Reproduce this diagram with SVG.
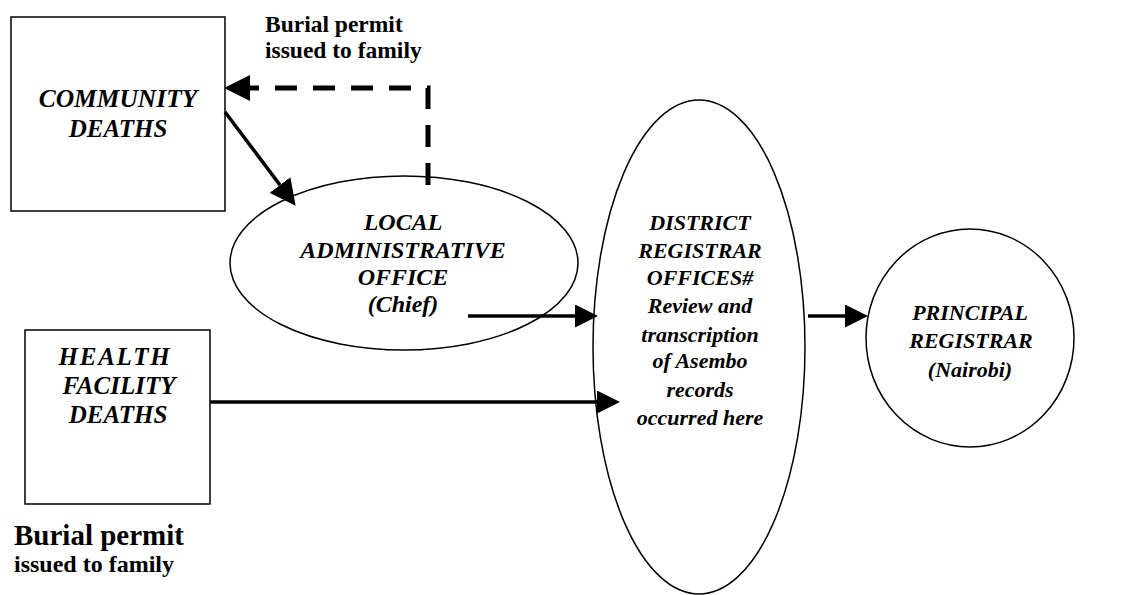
<svg xmlns="http://www.w3.org/2000/svg" width="1133" height="595" viewBox="0 0 1133 595">
<style>
.box{fill:#fff;stroke:#000;stroke-width:1.5}
.node{font-family:"Liberation Serif","Times New Roman",serif;font-weight:bold;font-style:italic;text-anchor:middle;fill:#000}
.lbl{font-family:"Liberation Serif","Times New Roman",serif;font-weight:bold;fill:#000}
.conn{fill:none;stroke:#000;stroke-width:3.5}
.dash{fill:none;stroke:#000;stroke-width:5;stroke-dasharray:22 16}
</style>
<defs>
<marker id="ah" viewBox="0 0 24 24" refX="0" refY="12" markerWidth="23" markerHeight="23" markerUnits="userSpaceOnUse" orient="auto">
<path d="M0,0 L24,12 L0,24 z" fill="#000"/>
</marker>
<marker id="ahb" viewBox="0 0 24 24" refX="0" refY="12" markerWidth="26" markerHeight="26" markerUnits="userSpaceOnUse" orient="auto">
<path d="M0,0 L24,12 L0,24 z" fill="#000"/>
</marker>
</defs>
<rect width="1133" height="595" fill="#fff"/>
<g id="community">
<rect class="box" x="11" y="17" width="214" height="194"/>
<text class="node" x="118" y="107" font-size="25.5">COMMUNITY</text>
<text class="node" x="118" y="137" font-size="25">DEATHS</text>
</g>
<g id="health">
<rect class="box" x="25" y="330" width="185" height="174"/>
<text class="node" x="115" y="365" font-size="25" letter-spacing="1.8">HEALTH</text>
<text class="node" x="119" y="394" font-size="25">FACILITY</text>
<text class="node" x="118" y="423" font-size="25">DEATHS</text>
</g>
<g id="local">
<ellipse class="box" cx="404" cy="263" rx="174" ry="87"/>
<text class="node" x="403" y="230" font-size="24">LOCAL</text>
<text class="node" x="403" y="258" font-size="24">ADMINISTRATIVE</text>
<text class="node" x="403" y="285" font-size="24">OFFICE</text>
<text class="node" x="403" y="312" font-size="24">(Chief)</text>
</g>
<g id="district">
<ellipse class="box" cx="699" cy="347" rx="106" ry="247"/>
<text class="node" x="700" y="230" font-size="22">DISTRICT</text>
<text class="node" x="700" y="258" font-size="22">REGISTRAR</text>
<text class="node" x="700" y="285" font-size="22">OFFICES#</text>
<text class="node" x="700" y="313" font-size="22">Review and</text>
<text class="node" x="700" y="342" font-size="22">transcription</text>
<text class="node" x="700" y="368" font-size="22">of Asembo</text>
<text class="node" x="700" y="397" font-size="22">records</text>
<text class="node" x="700" y="425" font-size="22">occurred here</text>
</g>
<g id="principal">
<ellipse class="box" cx="970" cy="338" rx="104" ry="109"/>
<text class="node" x="970" y="320" font-size="22">PRINCIPAL</text>
<text class="node" x="971" y="348" font-size="22">REGISTRAR</text>
<text class="node" x="970" y="377" font-size="22">(Nairobi)</text>
</g>
<g id="labels">
<text class="lbl" x="265" y="32" font-size="23.5">Burial permit</text>
<text class="lbl" x="265" y="58" font-size="23.5">issued to family</text>
<text class="lbl" x="14" y="545" font-size="29">Burial permit</text>
<text class="lbl" x="14" y="572" font-size="24">issued to family</text>
</g>
<g id="connectors">
<path class="dash" d="M428,185 L428,88 L250,88" marker-end="url(#ahb)"/>
<line class="conn" x1="225" y1="112" x2="280" y2="185" stroke-width="5" marker-end="url(#ahb)"/>
<line class="conn" x1="468" y1="316" x2="575" y2="316" marker-end="url(#ah)"/>
<line class="conn" x1="210" y1="402" x2="597" y2="402" marker-end="url(#ah)"/>
<line class="conn" x1="808" y1="316" x2="845" y2="316" marker-end="url(#ah)"/>
</g>
</svg>
